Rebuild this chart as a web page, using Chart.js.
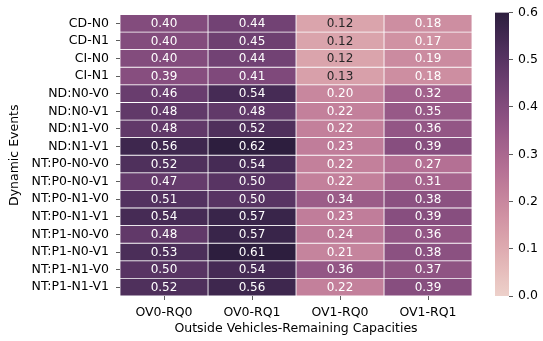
<!DOCTYPE html>
<html>
<head>
<meta charset="utf-8">
<script src="https://cdn.jsdelivr.net/npm/chart.js@4/dist/chart.umd.min.js"></script>
<style>
html,body{margin:0;padding:0;background:#fff;}
#wrap{position:relative;width:543px;height:341px;}
canvas{position:absolute;top:0;}
</style>
</head>
<body>
<div id="wrap">
<canvas id="main" width="543" height="341" style="left:0"></canvas>
<canvas id="cbar" width="53" height="341" style="left:490px"></canvas>
</div>
<script>
// ---- data ----
const rowLabels = ["CD-N0","CD-N1","CI-N0","CI-N1","ND:N0-V0","ND:N0-V1","ND:N1-V0","ND:N1-V1",
  "NT:P0-N0-V0","NT:P0-N0-V1","NT:P0-N1-V0","NT:P0-N1-V1","NT:P1-N0-V0","NT:P1-N0-V1","NT:P1-N1-V0","NT:P1-N1-V1"];
const colLabels = ["OV0-RQ0","OV0-RQ1","OV1-RQ0","OV1-RQ1"];
const ov0rq0 = [0.40,0.40,0.40,0.39,0.46,0.48,0.48,0.56,0.52,0.47,0.51,0.54,0.48,0.53,0.50,0.52];
const ov0rq1 = [0.44,0.45,0.44,0.41,0.54,0.48,0.52,0.62,0.54,0.50,0.50,0.57,0.57,0.61,0.54,0.56];
const ov1rq0 = [0.12,0.12,0.12,0.13,0.20,0.22,0.22,0.23,0.22,0.22,0.34,0.23,0.24,0.21,0.36,0.22];
const ov1rq1 = [0.18,0.17,0.19,0.18,0.32,0.35,0.36,0.39,0.27,0.31,0.38,0.39,0.36,0.38,0.37,0.39];
const columns = [ov0rq0, ov0rq1, ov1rq0, ov1rq1];
const cbarTicks = [0.0,0.1,0.2,0.3,0.4,0.5,0.6];
const vmin = 0.0, vmax = 0.6;
const xTitle = "Outside Vehicles-Remaining Capacities";
const yTitle = "Dynamic Events";

// ---- seaborn cubehelix_palette colormap ----
function cubehelix(x){
  const gamma=1, s=0, r=0.4, h=0.8;
  const xg = Math.pow(x, gamma);
  const a = h*xg*(1-xg)/2;
  const phi = 2*Math.PI*(s/3 + r*x);
  const f=(p0,p1)=>Math.min(1,Math.max(0, xg + a*(p0*Math.cos(phi)+p1*Math.sin(phi))));
  return [f(-0.14861,1.78277), f(-0.29227,-0.90649), f(1.97294,0)];
}
function cmapRGB(v){
  let t=(v-vmin)/(vmax-vmin); t=Math.min(1,Math.max(0,t));
  return cubehelix(0.85 + (0.15-0.85)*t);
}
function toCss(c){return 'rgb('+c.map(x=>Math.round(x*255)).join(',')+')';}
function colorFor(v){return toCss(cmapRGB(v));}
function lum(c){
  const l=c.map(x=>x<=0.03928?x/12.92:Math.pow((x+0.055)/1.055,2.4));
  return 0.2126*l[0]+0.7152*l[1]+0.0722*l[2];
}

Chart.defaults.font.family = "'DejaVu Sans', sans-serif";
Chart.defaults.color = '#000';

const datasets = columns.map((vals,c)=>({
  label: colLabels[c],
  data: vals.map(()=>[c, c+1]),
  values: vals,
  backgroundColor: vals.map(colorFor),
  borderColor: '#fff',
  borderWidth: 0.75,
  borderSkipped: false,
  grouped: false,
  barPercentage: 1,
  categoryPercentage: 1
}));

const annot = {
  id:'annot',
  afterDatasetsDraw(chart){
    const ctx=chart.ctx;
    ctx.save();
    ctx.font = "12px 'DejaVu Sans'";
    ctx.textAlign='center';
    ctx.textBaseline='middle';
    chart.data.datasets.forEach((ds,i)=>{
      chart.getDatasetMeta(i).data.forEach((el,j)=>{
        const v=ds.values[j];
        ctx.fillStyle = lum(cmapRGB(v))>0.408 ? '#262626' : '#fff';
        ctx.fillText(v.toFixed(2),(el.x+el.base)/2, el.y+0.5);
      });
    });
    ctx.restore();
  }
};

new Chart(document.getElementById('main'),{
  type:'bar',
  data:{labels: rowLabels, datasets},
  options:{
    indexAxis:'y',
    responsive:false,
    animation:false,
    devicePixelRatio:1,
    layout:{padding:{left:0,right:71,top:8,bottom:0}},
    plugins:{legend:{display:false},tooltip:{enabled:false}},
    scales:{
      x:{
        type:'linear', min:0, max:4,
        afterBuildTicks(s){ s.ticks = colLabels.map((_,i)=>({value:i+0.5})); },
        afterFit(s){ s.height = 45; },
        ticks:{ callback:(v)=>colLabels[Math.floor(v)], font:{size:12.5}, padding:5, maxRotation:0, autoSkip:false },
        grid:{ drawOnChartArea:false, drawTicks:true, tickLength:4, color:'#333', lineWidth:0.8 },
        border:{display:false},
        title:{display:true, text:xTitle, font:{size:12.5}, padding:{top:0,bottom:5}, color:'#000'}
      },
      y:{
        type:'category',
        afterFit(s){ s.width = 120; },
        ticks:{ font:{size:12.5}, padding:7, autoSkip:false },
        grid:{ drawOnChartArea:false, drawTicks:true, tickLength:4, color:'#333', lineWidth:0.8, offset:false },
        border:{display:false},
        title:{display:true, text:yTitle, font:{size:12.5}, padding:{top:7,bottom:0}, color:'#000'}
      }
    }
  },
  plugins:[annot]
});

// ---- colorbar ----
new Chart(document.getElementById('cbar'),{
  type:'bar',
  data:{labels:[''], datasets:[{
    data:[[vmin,vmax]],
    backgroundColor(ctx){
      const ca=ctx.chart.chartArea;
      if(!ca) return '#888';
      const g=ctx.chart.ctx.createLinearGradient(0,ca.bottom,0,ca.top);
      for(let k=0;k<=40;k++){ g.addColorStop(k/40, colorFor(vmin+(vmax-vmin)*k/40)); }
      return g;
    },
    borderWidth:0,
    barPercentage:1, categoryPercentage:1
  }]},
  options:{
    responsive:false, animation:false, devicePixelRatio:1,
    layout:{padding:{left:5,right:0,top:8,bottom:45}},
    plugins:{legend:{display:false},tooltip:{enabled:false}},
    scales:{
      x:{display:false},
      y:{
        position:'right', min:vmin, max:vmax,
        afterBuildTicks(s){ s.ticks = cbarTicks.map(v=>({value:v})); },
        afterFit(s){ s.width = 34; },
        ticks:{ callback:(v)=>v.toFixed(1), font:{size:12.5}, padding:5 },
        grid:{ drawOnChartArea:false, drawTicks:true, tickLength:4, color:'#333', lineWidth:0.8 },
        border:{display:false}
      }
    }
  }
});
</script>
</body>
</html>
